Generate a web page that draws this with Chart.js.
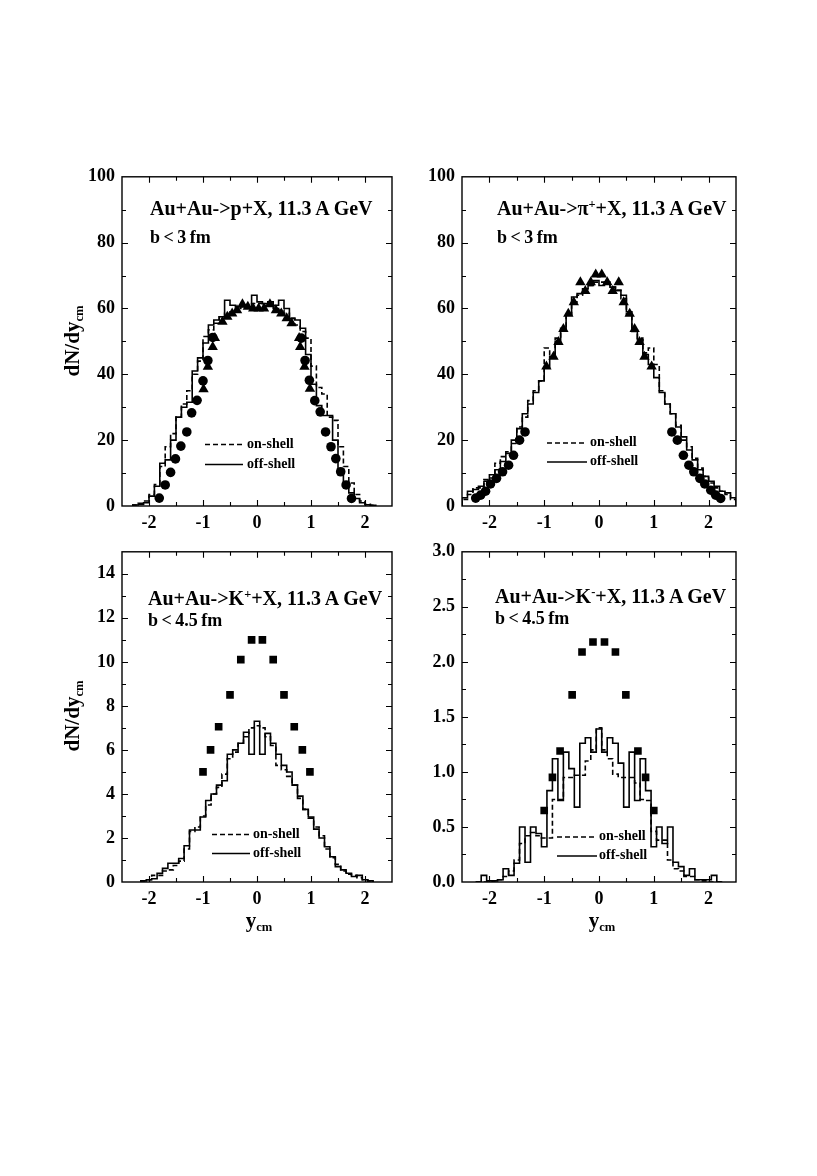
<!DOCTYPE html>
<html>
<head>
<meta charset="utf-8">
<script src="https://cdn.jsdelivr.net/npm/chart.js@4.4.0/dist/chart.umd.min.js"></script>
<style>
html,body{margin:0;padding:0;background:#fff;}
body{width:817px;height:1176px;position:relative;overflow:hidden;font-family:"Liberation Serif","Times New Roman",serif;font-weight:bold;color:#000;}
canvas{position:absolute;}
.t{position:absolute;white-space:nowrap;font-size:20px;line-height:1;}
.b{position:absolute;white-space:nowrap;font-size:18px;line-height:1;word-spacing:-1px;}
.lg{position:absolute;white-space:nowrap;font-size:14px;line-height:1;}
.yt{position:absolute;white-space:nowrap;font-size:21px;line-height:1;transform:translate(-50%,-50%) rotate(-90deg);}
.xt{position:absolute;white-space:nowrap;font-size:21px;line-height:1;transform:translate(-50%,-50%);}
sup{font-size:62%;vertical-align:0.55em;line-height:0;}
sub{font-size:60%;vertical-align:-0.35em;line-height:0;}
svg{position:absolute;overflow:visible;}
</style>
</head>
<body>
<canvas id="cTL" width="330" height="377" style="left:72px;top:159px"></canvas>
<canvas id="cTR" width="334" height="377" style="left:412px;top:159px"></canvas>
<canvas id="cBL" width="330" height="378" style="left:72px;top:534px"></canvas>
<canvas id="cBR" width="334" height="378" style="left:412px;top:534px"></canvas>

<div class="t" style="left:150px;top:198px">Au+Au-&gt;p+X, 11.3 A GeV</div>
<div class="b" style="left:150px;top:228px">b &lt; 3 fm</div>
<div class="t" style="left:497px;top:198px">Au+Au-&gt;π<sup>+</sup>+X, 11.3 A GeV</div>
<div class="b" style="left:497px;top:228px">b &lt; 3 fm</div>
<div class="t" style="left:148px;top:588px">Au+Au-&gt;K<sup>+</sup>+X, 11.3 A GeV</div>
<div class="b" style="left:148px;top:611px">b &lt; 4.5 fm</div>
<div class="t" style="left:495px;top:586px">Au+Au-&gt;K<sup>-</sup>+X, 11.3 A GeV</div>
<div class="b" style="left:495px;top:609px">b &lt; 4.5 fm</div>

<div class="yt" style="left:72px;top:341px">dN/dy<sub>cm</sub></div>
<div class="yt" style="left:72px;top:716px">dN/dy<sub>cm</sub></div>
<div class="xt" style="left:259px;top:920px">y<sub>cm</sub></div>
<div class="xt" style="left:602px;top:920px">y<sub>cm</sub></div>

<!-- legends -->
<svg style="left:0;top:0" width="817" height="1176">
  <g stroke="#000" stroke-width="1.5">
    <line x1="205" y1="444.5" x2="243" y2="444.5" stroke-dasharray="5 3"/>
    <line x1="205" y1="464.5" x2="243" y2="464.5"/>
    <line x1="547" y1="443" x2="587" y2="443" stroke-dasharray="5 3"/>
    <line x1="547" y1="462" x2="587" y2="462"/>
    <line x1="212" y1="834.5" x2="250" y2="834.5" stroke-dasharray="5 3"/>
    <line x1="212" y1="853.5" x2="250" y2="853.5"/>
    <line x1="557" y1="837" x2="597" y2="837" stroke-dasharray="5 3"/>
    <line x1="557" y1="856" x2="597" y2="856"/>
  </g>
</svg>
<div class="lg" style="left:247px;top:437px">on-shell</div>
<div class="lg" style="left:247px;top:457px">off-shell</div>
<div class="lg" style="left:590px;top:435px">on-shell</div>
<div class="lg" style="left:590px;top:454px">off-shell</div>
<div class="lg" style="left:253px;top:827px">on-shell</div>
<div class="lg" style="left:253px;top:846px">off-shell</div>
<div class="lg" style="left:599px;top:829px">on-shell</div>
<div class="lg" style="left:599px;top:848px">off-shell</div>

<script>
// ---------------- axes / ticks ----------------
const xTickLabels = [-2, -1, 0, 1, 2];
const xTickMarks = [-2, -1.5, -1, -0.5, 0, 0.5, 1, 1.5, 2];
const pYLabels = [0, 20, 40, 60, 80, 100];
const pYMarks = [10, 20, 30, 40, 50, 60, 70, 80, 90];
const kpYLabels = [0, 2, 4, 6, 8, 10, 12, 14];
const kpYMarks = [1, 2, 3, 4, 5, 6, 7, 8, 9, 10, 11, 12, 13, 14];
const kmYLabels = [0, 0.5, 1.0, 1.5, 2.0, 2.5, 3.0];
const kmYMarks = [0.25, 0.5, 0.75, 1.0, 1.25, 1.5, 1.75, 2.0, 2.25, 2.5, 2.75];
const binWidth = 0.1;

// ---------------- protons (top-left) ----------------
const pBins = [-2.25,-2.15,-2.05,-1.95,-1.85,-1.75,-1.65,-1.55,-1.45,-1.35,-1.25,-1.15,-1.05,-0.95,-0.85,-0.75,-0.65,-0.55,-0.45,-0.35,-0.25,-0.15,-0.05,0.05,0.15,0.25,0.35,0.45,0.55,0.65,0.75,0.85,0.95,1.05,1.15,1.25,1.35,1.45,1.55,1.65,1.75,1.85,1.95,2.05,2.15];
const pOffShell = [0.3,0.5,1.0,3.0,6.0,13.0,14.0,20.0,27.0,30.0,31.5,41.0,45.0,49.5,55.0,56.5,57.5,62.5,61.0,60.5,60.5,60.5,64.0,62.0,61.5,62.0,61.0,62.5,60.0,57.0,56.5,54.0,46.0,37.0,30.5,27.5,27.5,20.0,11.0,7.0,4.0,2.3,1.0,0.4,0.2];
const pOnShell = [0.3,0.8,1.5,3.5,6.5,12.0,18.0,22.0,27.0,31.0,35.0,40.0,44.0,51.5,53.5,55.5,57.5,58.5,59.0,60.0,61.0,61.0,61.5,61.5,61.0,61.0,60.0,59.5,58.5,57.0,55.0,53.0,51.0,42.5,36.0,34.0,27.0,26.0,18.0,12.0,7.0,3.5,1.5,0.5,0.2];
const pCircX = [-1.81,-1.70,-1.60,-1.51,-1.41,-1.30,-1.21,-1.11,-1.00,-0.91,-0.82,0.82,0.89,0.97,1.07,1.17,1.27,1.37,1.46,1.55,1.65,1.75];
const pCircY = [2.4,6.4,10.2,14.3,18.2,22.5,28.3,32.1,38.0,44.2,51.2,51.0,44.2,38.2,32.0,28.6,22.5,18.0,14.4,10.4,6.4,2.3];
const pTriX = [-0.99,-0.91,-0.82,-0.78,-0.64,-0.55,-0.46,-0.37,-0.27,-0.17,-0.07,0.03,0.13,0.24,0.35,0.45,0.55,0.64,0.78,0.80,0.88,0.98];
const pTriY = [35.5,42.3,48.3,51.0,56.0,57.5,58.5,59.5,61.3,60.5,60.0,60.0,60.0,61.3,59.5,58.5,57.0,55.5,51.0,48.3,42.3,35.6];

// ---------------- pi+ (top-right) ----------------
const piBins = [-2.45,-2.35,-2.25,-2.15,-2.05,-1.95,-1.85,-1.75,-1.65,-1.55,-1.45,-1.35,-1.25,-1.15,-1.05,-0.95,-0.85,-0.75,-0.65,-0.55,-0.45,-0.35,-0.25,-0.15,-0.05,0.05,0.15,0.25,0.35,0.45,0.55,0.65,0.75,0.85,0.95,1.05,1.15,1.25,1.35,1.45,1.55,1.65,1.75,1.85,1.95,2.05,2.15,2.25,2.35,2.45];
const piOffShell = [2.5,4.5,5,6,7.5,9.5,11,13.5,16,20,23.5,28,31,34.5,38,42,45.5,50,53.5,58,63.5,64.5,66,67,68.5,67,68,66.5,65.5,64,59,53.5,50.5,46,43,39,34.5,31,28,24,21,17,14,11,9,7.5,6,4.5,4,2.5];
const piOnShell = [2,3.5,5.5,5.5,8,8.5,13,15,16.5,19,24,27,32,35,38,48,46,51,54,58,62,64,66,67,68,68,67.5,66.5,65.5,63,58,53,51,46.5,48,43,35,31,28,24.5,20,18,14.5,11.5,9,7,5.5,4.5,3.5,2];
const piCircX = [-2.25,-2.16,-2.07,-1.98,-1.87,-1.76,-1.65,-1.56,-1.45,-1.35,1.33,1.43,1.54,1.64,1.73,1.84,1.93,2.04,2.13,2.22];
const piCircY = [2.4,3.3,4.5,6.7,8.4,10.4,12.4,15.4,20.0,22.5,22.5,20.0,15.4,12.4,10.4,8.4,6.7,4.8,3.3,2.3];
const piTriX = [-0.96,-0.83,-0.74,-0.65,-0.56,-0.46,-0.34,-0.25,-0.15,-0.06,0.05,0.15,0.25,0.36,0.45,0.56,0.65,0.74,0.83,0.96];
const piTriY = [42.4,45.3,49.8,53.8,58.4,61.9,68.0,65.3,68.0,70.3,70.3,68.0,65.3,68.0,61.9,58.4,53.8,49.8,45.3,42.4];

// ---------------- K+ (bottom-left) ----------------
const kpBins = [-2.1,-2.0,-1.9,-1.8,-1.7,-1.6,-1.5,-1.4,-1.3,-1.2,-1.1,-1.0,-0.9,-0.8,-0.7,-0.6,-0.5,-0.4,-0.3,-0.2,-0.1,0,0.1,0.2,0.3,0.4,0.5,0.6,0.7,0.8,0.9,1.0,1.1,1.2,1.3,1.4,1.5,1.6,1.7,1.8,1.9,2.0,2.1];
const kpOffShell = [0.05,0.1,0.15,0.4,0.62,0.85,0.85,1.07,1.65,2.36,2.36,2.95,3.7,4.0,4.4,4.6,5.8,6.0,6.3,6.8,5.8,7.3,5.8,6.75,6.3,5.8,5.3,5.0,4.4,3.9,3.3,2.95,2.4,2.0,1.6,1.15,0.7,0.55,0.4,0.25,0.3,0.1,0.05];
const kpOnShell = [0.05,0.1,0.3,0.3,0.5,0.55,0.75,0.95,1.5,2.3,2.5,3.0,3.5,4.0,4.3,4.9,5.6,5.9,6.3,6.6,7.0,7.1,7.0,6.6,6.2,5.3,5.1,4.8,4.4,3.8,3.3,2.9,2.5,2.1,1.5,1.1,0.8,0.5,0.35,0.3,0.2,0.1,0.05];
const kpDataX = [-1.0,-0.86,-0.71,-0.5,-0.3,-0.1,0.1,0.3,0.5,0.69,0.84,0.98];
const kpDataY = [5.0,6.0,7.05,8.5,10.1,11.0,11.0,10.1,8.5,7.05,6.0,5.0];

// ---------------- K- (bottom-right) ----------------
const kmBins = [-2.2,-2.1,-2.0,-1.9,-1.8,-1.7,-1.6,-1.5,-1.4,-1.3,-1.2,-1.1,-1.0,-0.9,-0.8,-0.7,-0.6,-0.5,-0.4,-0.3,-0.2,-0.1,0,0.1,0.2,0.3,0.4,0.5,0.6,0.7,0.8,0.9,1.0,1.1,1.2,1.3,1.4,1.5,1.6,1.7,1.8,1.9,2.0,2.1,2.2];
const kmOffShell = [0,0.06,0.01,0.01,0.02,0.12,0.06,0.17,0.5,0.18,0.5,0.44,0.32,0.83,1.12,0.74,1.18,1.03,0.68,1.26,1.31,1.18,1.39,1.18,1.31,1.26,1.08,0.68,1.18,0.74,1.12,0.83,0.32,0.5,0.35,0.5,0.18,0.14,0.06,0.12,0.02,0.02,0.02,0.06,0];
const kmOnShell = [0,0,0,0.01,0.02,0.05,0.1,0.2,0.35,0.42,0.45,0.42,0.4,0.4,0.75,0.75,0.95,0.95,0.97,0.97,1.1,1.2,1.4,1.2,1.12,0.98,0.95,0.95,0.95,0.9,0.75,0.74,0.46,0.38,0.38,0.2,0.12,0.1,0.05,0.05,0.02,0.01,0,0,0];
const kmDataX = [-1.0,-0.85,-0.71,-0.49,-0.31,-0.11,0.1,0.3,0.49,0.71,0.85,1.0];
const kmDataY = [0.65,0.95,1.19,1.7,2.09,2.18,2.18,2.09,1.7,1.19,0.95,0.65];

// ---------------- helpers ----------------
function histPoints(centers, values, w) {
  const pts = [{x: centers[0] - w / 2, y: 0}];
  centers.forEach((c, i) => {
    pts.push({x: c - w / 2, y: values[i]});
    pts.push({x: c + w / 2, y: values[i]});
  });
  pts.push({x: centers[centers.length - 1] + w / 2, y: 0});
  return pts;
}
function pairs(xs, ys) { return xs.map((x, i) => ({x: x, y: ys[i]})); }

const FONT = '"Liberation Serif","Times New Roman",serif';

const framePlugin = {
  id: 'frame',
  afterDraw(chart, args, o) {
    const {ctx, chartArea: a, scales} = chart;
    const xs = scales.x, ys = scales.y;
    ctx.save();
    ctx.strokeStyle = '#000';
    ctx.lineWidth = 1.4;
    ctx.strokeRect(a.left, a.top, a.right - a.left, a.bottom - a.top);
    ctx.lineWidth = 1.1;
    ctx.beginPath();
    o.xMarks.forEach(v => {
      const p = Math.round(xs.getPixelForValue(v)) + 0.5;
      const L = o.xMajor.includes(v) ? 6 : 4;
      ctx.moveTo(p, a.bottom); ctx.lineTo(p, a.bottom - L);
      ctx.moveTo(p, a.top); ctx.lineTo(p, a.top + L);
    });
    o.yMarks.forEach(v => {
      const p = Math.round(ys.getPixelForValue(v)) + 0.5;
      const L = o.yMajor.includes(v) ? 6 : 4;
      ctx.moveTo(a.left, p); ctx.lineTo(a.left + L, p);
      ctx.moveTo(a.right, p); ctx.lineTo(a.right - L, p);
    });
    ctx.stroke();
    ctx.restore();
  }
};

function panel(id, cfg) {
  const histStyle = {showLine: true, pointRadius: 0, borderColor: '#000', borderWidth: 1.6, tension: 0, order: 2, fill: false};
  const datasets = [
    Object.assign({label: 'on-shell', data: histPoints(cfg.bins, cfg.on, binWidth), borderDash: [5, 3]}, histStyle),
    Object.assign({label: 'off-shell', data: histPoints(cfg.bins, cfg.off, binWidth)}, histStyle)
  ];
  cfg.markers.forEach(m => datasets.push({
    label: m.label, data: pairs(m.x, m.y), showLine: false, pointStyle: m.style,
    pointRadius: m.r, backgroundColor: '#000', borderColor: '#000', borderWidth: 0, order: 0
  }));
  new Chart(document.getElementById(id), {
    type: 'scatter',
    data: {datasets: datasets},
    options: {
      responsive: false, animation: false, events: [],
      layout: {padding: {top: 10, right: 10, left: 0, bottom: 0}},
      scales: {
        x: {
          type: 'linear', min: -2.5, max: 2.5,
          grid: {display: false, drawTicks: false}, border: {display: false},
          afterBuildTicks: s => { s.ticks = xTickLabels.map(v => ({value: v})); },
          afterFit: s => { s.height = 30; },
          ticks: {color: '#000', padding: 7, maxRotation: 0, autoSkip: false,
                  font: {family: FONT, size: 18, weight: 'bold'}, callback: v => String(v)}
        },
        y: {
          type: 'linear', min: cfg.ymin, max: cfg.ymax,
          grid: {display: false, drawTicks: false}, border: {display: false},
          afterBuildTicks: s => { s.ticks = cfg.yLabels.map(v => ({value: v})); },
          afterFit: s => { s.width = 50; },
          ticks: {color: '#000', padding: 7, autoSkip: false,
                  font: {family: FONT, size: 18, weight: 'bold'}, callback: cfg.fmt}
        }
      },
      plugins: {
        legend: {display: false}, tooltip: {enabled: false},
        frame: {xMarks: xTickMarks, xMajor: xTickLabels, yMarks: cfg.yMarks, yMajor: cfg.yLabels}
      }
    },
    plugins: [framePlugin]
  });
}

panel('cTL', {
  bins: pBins, on: pOnShell, off: pOffShell, ymin: 0, ymax: 100,
  yLabels: pYLabels, yMarks: pYMarks, fmt: v => String(v),
  markers: [
    {label: 'circles', x: pCircX, y: pCircY, style: 'circle', r: 4.8},
    {label: 'triangles', x: pTriX, y: pTriY, style: 'triangle', r: 6}
  ]
});
panel('cTR', {
  bins: piBins, on: piOnShell, off: piOffShell, ymin: 0, ymax: 100,
  yLabels: pYLabels, yMarks: pYMarks, fmt: v => String(v),
  markers: [
    {label: 'circles', x: piCircX, y: piCircY, style: 'circle', r: 4.8},
    {label: 'triangles', x: piTriX, y: piTriY, style: 'triangle', r: 6}
  ]
});
panel('cBL', {
  bins: kpBins, on: kpOnShell, off: kpOffShell, ymin: 0, ymax: 15,
  yLabels: kpYLabels, yMarks: kpYMarks, fmt: v => String(v),
  markers: [{label: 'data', x: kpDataX, y: kpDataY, style: 'rect', r: 5.4}]
});
panel('cBR', {
  bins: kmBins, on: kmOnShell, off: kmOffShell, ymin: 0, ymax: 3,
  yLabels: kmYLabels, yMarks: kmYMarks, fmt: v => Number(v).toFixed(1),
  markers: [{label: 'data', x: kmDataX, y: kmDataY, style: 'rect', r: 5.4}]
});
</script>
</body>
</html>
